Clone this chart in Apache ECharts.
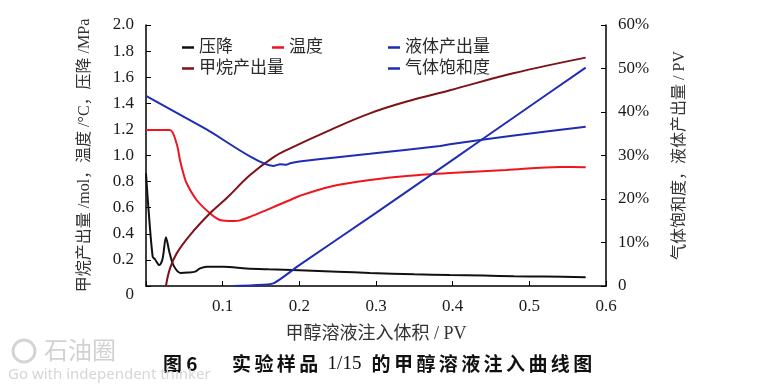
<!DOCTYPE html>
<html>
<head>
<meta charset="utf-8">
<script src="https://cdn.jsdelivr.net/npm/echarts@6/dist/echarts.min.js"></script>
<style>
html,body{margin:0;padding:0;background:#fff;}
#chart{width:775px;height:388px;}
</style>
</head>
<body>
<div id="chart"></div>
<script>
// ---- Data ----
const xTicks = [0, 0.1, 0.2, 0.3, 0.4, 0.5, 0.6];
const leftTicks = [0, 0.2, 0.4, 0.6, 0.8, 1.0, 1.2, 1.4, 1.6, 1.8, 2.0];
const rightTicks = [0, 10, 20, 30, 40, 50, 60];

const seriesNames = ['压降', '温度', '液体产出量', '甲烷产出量', '气体饱和度'];

// 压降 /MPa (left axis)
const pressureX = [0, 0.003, 0.0087, 0.0117, 0.0174, 0.0217, 0.026, 0.0304, 0.0357, 0.045, 0.055, 0.064, 0.0705, 0.079, 0.101, 0.131, 0.16, 0.2, 0.25, 0.292, 0.35, 0.3965, 0.44, 0.48, 0.52, 0.5735];
const pressureY = [0.864, 0.61, 0.225, 0.205, 0.16, 0.21, 0.373, 0.263, 0.16, 0.10, 0.103, 0.11, 0.135, 0.148, 0.148, 0.135, 0.128, 0.12, 0.11, 0.10, 0.09, 0.084, 0.08, 0.075, 0.072, 0.068];

// 温度 (left axis)
const tempX = [0, 0.031, 0.040, 0.0443, 0.0487, 0.053, 0.066, 0.0835, 0.0965, 0.114, 0.1226, 0.1357, 0.157, 0.188, 0.2, 0.24, 0.292, 0.344, 0.3965, 0.47, 0.54, 0.5735];
const tempY = [1.195, 1.195, 1.09, 0.966, 0.864, 0.787, 0.659, 0.557, 0.506, 0.498, 0.503, 0.53, 0.582, 0.659, 0.69, 0.761, 0.812, 0.845, 0.866, 0.889, 0.912, 0.91];

// 甲烷产出量 /mol (left axis)
const methaneX = [0.026, 0.0313, 0.04, 0.0574, 0.0835, 0.105, 0.1357, 0.166, 0.188, 0.24, 0.292, 0.344, 0.3965, 0.479, 0.5735];
const methaneY = [0, 0.135, 0.25, 0.39, 0.557, 0.672, 0.85, 0.986, 1.055, 1.195, 1.323, 1.42, 1.50, 1.63, 1.75];

// 液体产出量 /PV, % (right axis)
const liquidX = [0.114, 0.14, 0.166, 0.2, 0.3, 0.4, 0.48, 0.5735];
const liquidY = [0, 0.2, 0.6, 4.8, 16.8, 29.0, 38.8, 50.2];

// 气体饱和度, % (right axis)
const gasX = [0, 0.079, 0.166, 0.175, 0.183, 0.188, 0.2, 0.25, 0.292, 0.3835, 0.3965, 0.48, 0.5735];
const gasY = [43.7, 36.0, 27.6, 28.0, 27.9, 28.2, 28.6, 29.6, 30.4, 32.2, 32.6, 34.6, 36.6];

const captionHead = '图 6';
const captionBody = ['实', '验', '样', '品', '1/15', '的', '甲', '醇', '溶', '液', '注', '入', '曲', '线', '图'];

const colors = ['#111111', '#f0141e', '#1e2db4', '#7d1218', '#1e2db4'];

function pairs(xs, ys) { return xs.map((x, i) => [x, ys[i]]); }

const FONT = "'Liberation Serif', 'Noto Sans CJK SC', serif";
const chart = echarts.init(document.getElementById('chart'), null, {renderer: 'canvas'});

const legendPos = [
  {left: 182, top: 39},
  {left: 272, top: 39},
  {left: 388, top: 39},
  {left: 182, top: 60},
  {left: 388, top: 60}
];

// caption: laid out glyph by glyph with wide spacing like the reference
const captionGraphics = [];
captionGraphics.push({type: 'text', left: 163, top: 354, style: {text: captionHead, font: "bold 19px 'Noto Sans CJK SC', sans-serif", fill: '#111'}});
(function () {
  let x = 232;
  captionBody.forEach(p => {
    const isNum = p === '1/15';
    if (isNum) x += 6;
    captionGraphics.push({
      type: 'text', left: x, top: isNum ? 355 : 354,
      style: {text: p, font: isNum ? "19px 'Liberation Serif', serif" : "bold 19px 'Noto Sans CJK SC', sans-serif", fill: '#111'}
    });
    x += isNum ? 44 : 22.4;
  });
})();

const lineSeries = (i, xs, ys, axis, sm) => ({
  name: seriesNames[i], type: 'line', yAxisIndex: axis, data: pairs(xs, ys),
  showSymbol: false, smooth: sm,
  lineStyle: {width: 2, color: colors[i]}, itemStyle: {color: colors[i]}
});

const option = {
  backgroundColor: '#ffffff',
  animation: false,
  color: colors,
  legend: seriesNames.map((n, i) => ({
    data: [n],
    left: legendPos[i].left,
    top: legendPos[i].top,
    icon: 'rect',
    itemWidth: 12,
    itemHeight: 2.5,
    padding: 0,
    textStyle: {fontFamily: FONT, fontSize: 17, color: '#2a2a2a'}
  })),
  grid: {left: 146, right: 169, top: 25, bottom: 102, containLabel: false},
  xAxis: {
    type: 'value',
    min: xTicks[0],
    max: xTicks[xTicks.length - 1],
    interval: 0.1,
    name: '甲醇溶液注入体积 / PV',
    nameLocation: 'middle',
    nameGap: 39,
    nameTextStyle: {fontFamily: FONT, fontSize: 18, color: '#333'},
    axisLine: {lineStyle: {color: '#000', width: 1.5}},
    axisTick: {inside: true, length: 5, lineStyle: {color: '#000'}},
    splitLine: {show: false},
    axisLabel: {
      margin: 12,
      fontFamily: FONT, fontSize: 17, color: '#1a1a1a',
      formatter: v => (v === 0 ? '' : v.toFixed(1))
    }
  },
  yAxis: [
    {
      type: 'value',
      position: 'left',
      min: leftTicks[0],
      max: leftTicks[leftTicks.length - 1],
      interval: 0.2,
      name: '甲烷产出量 /mol，温度 /°C，压降 /MPa',
      nameLocation: 'middle',
      nameRotate: 90,
      nameGap: 53,
      nameTextStyle: {fontFamily: FONT, fontSize: 16, color: '#333'},
      axisLine: {show: true, lineStyle: {color: '#000', width: 1.5}},
      axisTick: {show: true, inside: true, length: 5, lineStyle: {color: '#000'}},
      splitLine: {show: false},
      axisLabel: {
        margin: 12,
        fontFamily: FONT, fontSize: 17, color: '#1a1a1a',
        formatter: v => (Math.abs(v) < 1e-9 ? '{z|0}' : v.toFixed(1)),
        rich: {z: {fontFamily: FONT, fontSize: 17, color: '#1a1a1a', padding: [18, 0, 0, 0]}}
      }
    },
    {
      type: 'value',
      position: 'right',
      min: rightTicks[0],
      max: rightTicks[rightTicks.length - 1],
      interval: 10,
      name: '气体饱和度，液体产出量 / PV',
      nameLocation: 'middle',
      nameRotate: 90,
      nameGap: 66,
      nameTextStyle: {fontFamily: FONT, fontSize: 16, color: '#333'},
      axisLine: {show: true, lineStyle: {color: '#000', width: 1.5}},
      axisTick: {show: true, inside: true, length: 5, lineStyle: {color: '#000'}},
      splitLine: {show: false},
      axisLabel: {
        margin: 12,
        fontFamily: FONT, fontSize: 17, color: '#1a1a1a',
        formatter: v => (v === 0 ? '0' : v + '%')
      }
    }
  ],
  series: [
    lineSeries(0, pressureX, pressureY, 0, 0.3),
    lineSeries(1, tempX, tempY, 0, 0.3),
    lineSeries(2, liquidX, liquidY, 1, 0.2),
    lineSeries(3, methaneX, methaneY, 0, 0.4),
    lineSeries(4, gasX, gasY, 1, 0.2)
  ],
  graphic: captionGraphics.concat([
    {type: 'circle', shape: {cx: 24, cy: 351, r: 11}, style: {fill: 'none', stroke: '#d4d4d4', lineWidth: 3}, silent: true},
    {type: 'text', left: 44, top: 338, style: {text: '石油圈', font: "24px 'Noto Sans CJK SC', sans-serif", fill: '#d2d2d2'}, silent: true},
    {type: 'text', left: 8, top: 367, style: {text: 'Go with independent thinker', font: "15px 'Noto Sans', sans-serif", fill: '#d6d6d6'}, silent: true}
  ])
};
chart.setOption(option);
</script>
</body>
</html>
